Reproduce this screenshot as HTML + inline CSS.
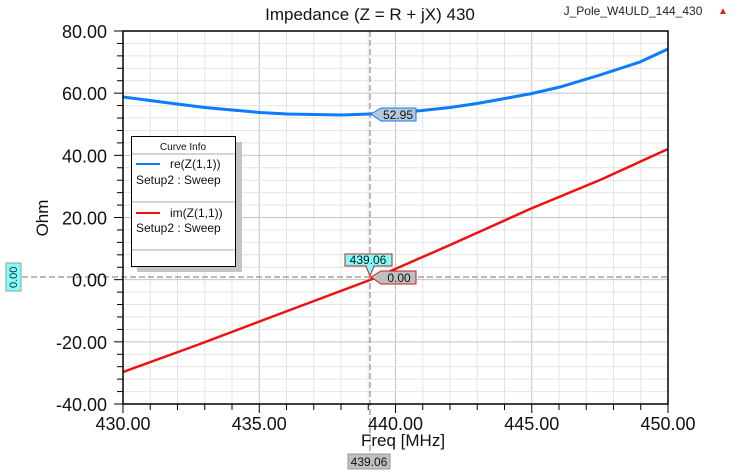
<!DOCTYPE html>
<html><head><meta charset="utf-8"><style>
html,body{margin:0;padding:0;background:#fff;}
svg{display:block;font-family:"Liberation Sans",Arial,sans-serif;}
</style></head><body>
<svg id="s" width="740" height="473" viewBox="0 0 740 473" xmlns="http://www.w3.org/2000/svg">
<rect width="740" height="473" fill="#fff"/>
<g id="grid"></g>
<text x="370" y="20" font-size="17" text-anchor="middle" fill="#111">Impedance (Z = R + jX) 430</text>
<text x="633" y="15" font-size="12" text-anchor="middle" fill="#222">J_Pole_W4ULD_144_430</text>
<text x="723" y="14" font-size="10" fill="#e02020" text-anchor="middle">▲</text>
<!-- curves -->
<polyline fill="none" stroke="#0a7cff" stroke-width="3" points="123,97 150,100.5 177,104 205,107.5 232,110 260,112.5 287,114 314,114.5 341,115 370,114 395,113 422,110.5 450,107.5 477,103.5 505,98.5 532,93.5 560,87 600,75 640,62 668,49"/>
<polyline fill="none" stroke="#f01010" stroke-width="2.5" points="123,372 200,344 290,310 370,280 450,245 530,209 600,180 668,149"/>
<!-- markers -->
<line x1="370" y1="31" x2="370" y2="455" stroke="#777" stroke-dasharray="6,3" stroke-width="1"/>
<line x1="22" y1="277" x2="668" y2="277" stroke="#777" stroke-dasharray="6,3" stroke-width="1"/>
<rect x="6" y="263" width="15" height="28" fill="#80ffff" stroke="#999"/>
<text transform="translate(17,288) rotate(-90)" font-size="11" fill="#222">0.00</text>
<path d="M345,254 H392 V266 H374 L370,276 L366,266 H345 Z" fill="#80ffff" stroke="#c02020"/>
<text x="368" y="264" font-size="12" text-anchor="middle" fill="#111">439.06</text>
<path d="M371,277 L381,271 H416 V284 H381 Z" fill="#c0c0c0" stroke="#c02020"/>
<text x="399" y="282" font-size="12" text-anchor="middle" fill="#111">0.00</text>
<path d="M371,114 L381,108 H416 V121 H381 Z" fill="#b8c8d8" stroke="#0a7cff"/>
<text x="398" y="119" font-size="12" text-anchor="middle" fill="#111">52.95</text>
<rect x="348" y="454" width="42" height="15" fill="#c0c0c0" stroke="#999"/>
<text x="369" y="466" font-size="12" text-anchor="middle" fill="#111">439.06</text>
<!-- legend -->
<rect x="137" y="142" width="105" height="130" fill="#c4c4c4"/>
<rect x="131.5" y="136.5" width="104" height="130" fill="#fff" stroke="#000"/>
<line x1="132" y1="154" x2="235" y2="154" stroke="#aaa"/>
<line x1="132" y1="202" x2="235" y2="202" stroke="#aaa"/>
<line x1="132" y1="250" x2="235" y2="250" stroke="#aaa"/>
<text x="183" y="150" font-size="10" text-anchor="middle" fill="#111">Curve Info</text>
<line x1="136" y1="164" x2="160" y2="164" stroke="#0a7cff" stroke-width="2"/>
<text x="170" y="168" font-size="12" fill="#111">re(Z(1,1))</text>
<text x="136" y="184" font-size="12" fill="#111">Setup2 : Sweep</text>
<line x1="136" y1="213" x2="160" y2="213" stroke="#f01010" stroke-width="2"/>
<text x="170" y="217" font-size="12" fill="#111">im(Z(1,1))</text>
<text x="136" y="232" font-size="12" fill="#111">Setup2 : Sweep</text>
<text x="361" y="446" font-size="17" fill="#111">Freq [MHz]</text>
<text transform="translate(48,218) rotate(-90)" font-size="17" text-anchor="middle" fill="#111">Ohm</text>
<g id="ax"></g>
</svg>
<script>
var ns="http://www.w3.org/2000/svg";
function el(p,t,a,txt){var e=document.createElementNS(ns,t);for(var k in a)e.setAttribute(k,a[k]);if(txt!=null)e.textContent=txt;document.getElementById(p).appendChild(e);}
var L=123,R=668,T=31,B=404;
for(var i=0;i<=20;i++){var x=L+(R-L)*i/20;var maj=i%5==0;
 if(i>0&&i<20)el("grid","line",{x1:x,y1:T,x2:x,y2:B,stroke:maj?"#c4c4c4":"#e4e4e4","stroke-width":1});
 el("ax","line",{x1:x,y1:B,x2:x,y2:B+(maj?9:6),stroke:"#000"});
 if(maj)el("ax","text",{x:x,y:B+26,"font-size":18,"text-anchor":"middle",fill:"#111"},(430+i).toFixed(2));}
for(var j=0;j<=30;j++){var y=T+(B-T)*j/30;var maj=j%5==0;
 if(j>0&&j<30)el("grid","line",{x1:L,y1:y,x2:R,y2:y,stroke:maj?"#c4c4c4":"#e4e4e4","stroke-width":1});
 el("ax","line",{x1:L-(maj?9:6),y1:y,x2:L,y2:y,stroke:"#000"});
 if(maj)el("ax","text",{x:L-16,y:y+7,"font-size":18,"text-anchor":"end",fill:"#111"},(80-j*4).toFixed(2));}
el("ax","rect",{x:L,y:T,width:R-L,height:B-T,fill:"none",stroke:"#000","stroke-width":1.5});
</script>
</body></html>
